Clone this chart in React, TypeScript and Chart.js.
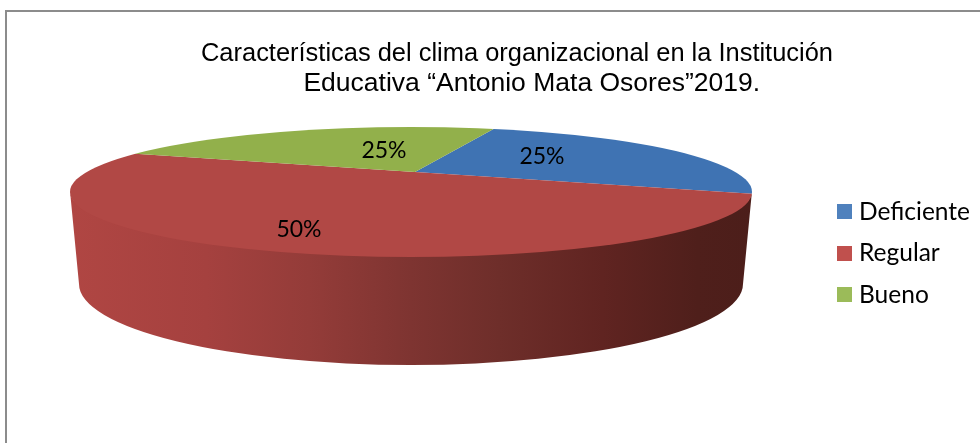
import React, { useEffect, useRef } from "react";
import { Chart, registerables } from "chart.js";

Chart.register(...registerables);

const categories = ["Deficiente", "Regular", "Bueno"];
const values = [25, 50, 25];
const sliceColors = ["#3f73b3", "#b14845", "#92b04b"];
const legendColors = ["#4f81bd", "#c0504d", "#9bbb59"];
const titleLines = [
  "Características del clima organizacional en la Institución",
  "    Educativa “Antonio Mata Osores”2019.",
];
const labelOffsets = [
  [127, -15],
  [-116, 58],
  [-31, -21],
];
const wallStops: [number, string][] = [
  [0, "#b04643"],
  [0.2, "#a5413f"],
  [0.35, "#943c39"],
  [0.5, "#7e3431"],
  [0.63, "#6e2e2a"],
  [0.78, "#602421"],
  [0.92, "#4f1f1b"],
  [1, "#4c1e1a"],
];

// Projection of the round pie onto the tilted disc
const apex = { x: 415, y: 172 };
const topFace = { x: 411, y: 192, rx: 341, ry: 65 };
const bottomFace = { x: 411, y: 284, rx: 332, ry: 81 };
const spreadX = 520;
const spreadY = 98;
const titleBox = { left: 201, right: 833 };

const discPlugin = {
  id: "disc",
  afterLayout(chart: any) {
    chart.titleBlock.left = titleBox.left;
    chart.titleBlock.right = titleBox.right;
  },
  beforeDraw(chart: any) {
    const { ctx, width, height } = chart;
    ctx.save();
    ctx.fillStyle = "#ffffff";
    ctx.fillRect(0, 0, width, height);
    ctx.strokeStyle = "#8c8c8c";
    ctx.lineWidth = 2;
    ctx.beginPath();
    ctx.moveTo(6, height);
    ctx.lineTo(6, 11);
    ctx.lineTo(width, 11);
    ctx.stroke();
    ctx.restore();
  },
  beforeDatasetsDraw(chart: any) {
    const { ctx } = chart;
    const arc = chart.getDatasetMeta(0).data[0];
    const t = topFace;
    const b = bottomFace;
    ctx.save();
    const grad = ctx.createLinearGradient(t.x - t.rx, 0, t.x + t.rx, 0);
    wallStops.forEach(([o, c]) => grad.addColorStop(o, c));
    ctx.fillStyle = grad;
    ctx.beginPath();
    ctx.ellipse(t.x, t.y - 1, t.rx, t.ry, 0, Math.PI, 0, true);
    ctx.lineTo(b.x + b.rx, b.y);
    ctx.ellipse(b.x, b.y, b.rx, b.ry, 0, 0, Math.PI, false);
    ctx.closePath();
    ctx.fill();
    ctx.restore();

    ctx.save();
    ctx.beginPath();
    ctx.ellipse(t.x, t.y, t.rx, t.ry, 0, 0, Math.PI * 2);
    ctx.clip();
    const r = arc.outerRadius;
    ctx.translate(apex.x, apex.y);
    ctx.scale(spreadX / r, spreadY / r);
    ctx.translate(-arc.x, -arc.y);
  },
  afterDatasetsDraw(chart: any) {
    const { ctx } = chart;
    ctx.restore();
    ctx.save();
    ctx.fillStyle = "#000000";
    ctx.font = "23px Lato";
    ctx.textAlign = "center";
    ctx.textBaseline = "middle";
    values.forEach((v, i) => {
      ctx.fillText(`${v}%`, apex.x + labelOffsets[i][0], apex.y + labelOffsets[i][1]);
    });
    ctx.restore();
  },
};

function swatch(color: string) {
  const c = document.createElement("canvas");
  c.width = 15;
  c.height = 15;
  const g = c.getContext("2d")!;
  g.fillStyle = color;
  g.fillRect(0, 0, 15, 15);
  return c;
}

export default function App() {
  const ref = useRef<HTMLCanvasElement>(null);
  useEffect(() => {
    document.body.style.margin = "0";
    const swatches = legendColors.map(swatch);
    const chart = new Chart(ref.current!, {
      type: "pie",
      data: {
        labels: categories,
        datasets: [{ data: values, backgroundColor: sliceColors, borderWidth: 0 }],
      },
      options: {
        responsive: false,
        animation: false,
        rotation: 19,
        layout: { padding: { left: 209, right: 0, top: 0, bottom: 45 } },
        plugins: {
          tooltip: { enabled: false },
          title: {
            display: true,
            text: titleLines,
            fullSize: false,
            color: "#000000",
            font: { family: "'Liberation Sans'", size: 26.5, weight: "normal", lineHeight: 1.15 },
            padding: { top: 38, bottom: 10 },
          },
          legend: {
            display: true,
            position: "right",
            fullSize: false,
            labels: {
              color: "#000000",
              font: { family: "Lato", size: 24.5 },
              usePointStyle: true,
              boxWidth: 5,
              boxHeight: 15,
              padding: 17,
              generateLabels: (c: any) =>
                categories.map((text, i) => ({
                  text,
                  fillStyle: legendColors[i],
                  strokeStyle: legendColors[i],
                  lineWidth: 0,
                  pointStyle: swatches[i],
                  index: i,
                  hidden: !c.getDataVisibility(i),
                })),
            },
          },
        },
      } as any,
      plugins: [discPlugin],
    });
    return () => chart.destroy();
  }, []);
  return <canvas ref={ref} width={980} height={443} style={{ display: "block" }} />;
}
